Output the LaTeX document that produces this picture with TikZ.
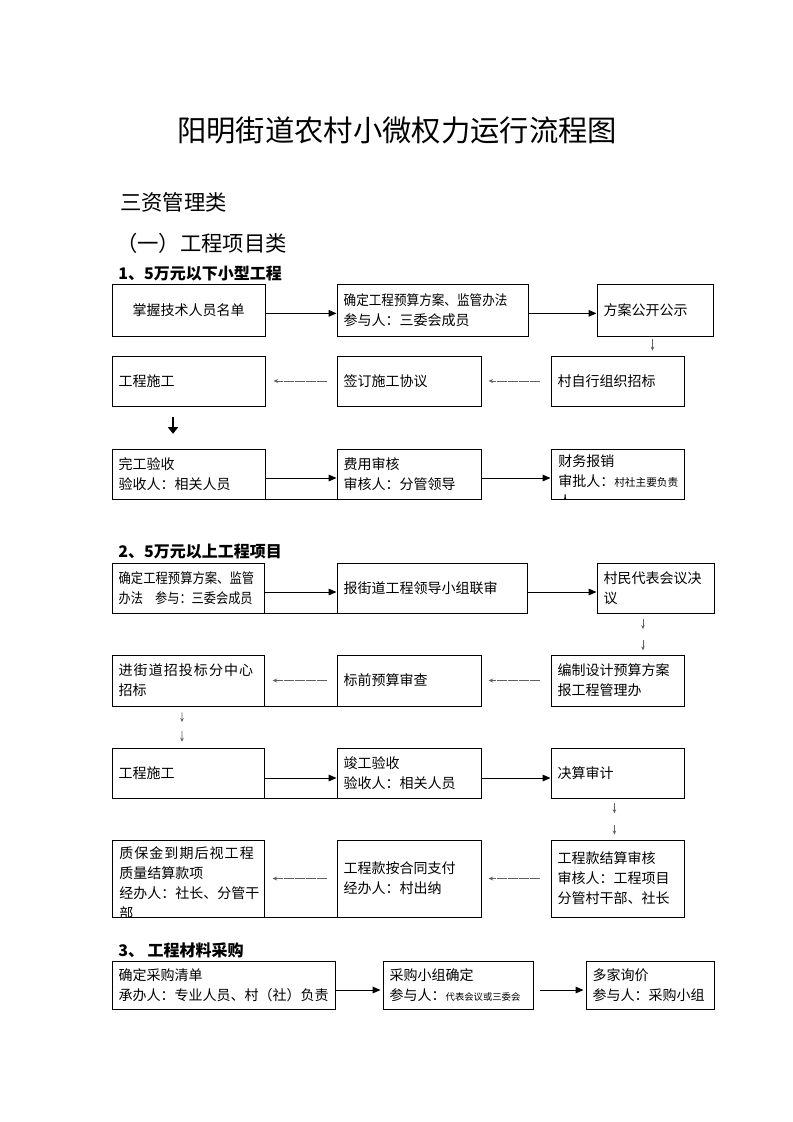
\documentclass[tikz,border=0pt]{standalone}
\usepackage{fontspec}
\setmainfont{Noto Sans CJK SC}
\usepackage{graphicx}
\usetikzlibrary{arrows.meta,calc}
\newcommand\flowbox[7][]{%
  \pgfmathsetlengthmacro\fbw{(#5-#3)*0.75pt}%
  \pgfmathsetlengthmacro\fbh{(#6-#4)*0.75pt}%
  \pgfmathsetlengthmacro\fbt{(#5-#3)*0.75pt-10pt}%
  \node[box, minimum width=\fbw, minimum height=\fbh, text width=\fbt, #1] (#2) at ({(#3+#5)/2},{(#4+#6)/2}) {#7};}
\newcommand\smalldown[5]{%
  \coordinate (#1s) at ([xshift=#3]#1.south);
  \coordinate (#1e) at (#1s |- #2.north);
  \draw[downarrow] ($(#1s)!#4!(#1e)$) -- ($(#1s)!#5!(#1e)$);}
\newcommand\gp{\hspace{0.8pt}}
\begin{document}
\begin{tikzpicture}[x=0.75pt,y=-0.75pt,
  box/.style={draw, line width=0.75pt, rectangle, inner xsep=5pt, inner ysep=0pt, align=left,
    font=\fontsize{10.5pt}{15pt}\selectfont},
  txt/.style={inner sep=0pt, align=left, font=\fontsize{10.5pt}{15pt}\selectfont},
  flowarrow/.style={line width=0.75pt, -{Triangle[length=6pt,width=5pt]}},
  backarrow/.style={draw=black!62, line width=0.65pt, dash pattern=on 7pt off 1.2pt, -{Stealth[length=3.5pt,width=3pt]}},
  downarrow/.style={draw=black!62, line width=0.55pt, -{Stealth[length=3pt,width=2.6pt]}},
  boldarrow/.style={line width=1.6pt, -{Triangle[length=5pt,width=7.5pt]}},
  heading/.style={anchor=west, inner sep=0pt, font=\bfseries\fontsize{12pt}{14pt}\selectfont}]
\fill[white] (0,0) rectangle (793,1122);
\useasboundingbox (0,0) rectangle (793,1122);

% titles
\node[inner sep=0pt, font=\fontsize{22pt}{26pt}\selectfont] (title) at (397,130) {阳明街道农村小微权力运行流程图};
\node[anchor=west, inner sep=0pt, font=\fontsize{16pt}{19pt}\selectfont] (cat) at (120,202) {三资管理类};
\node[anchor=west, inner sep=0pt, font=\fontsize{16pt}{19pt}\selectfont] (sub) at (116,243) {（一）工程项目类};

% ---------- section 1
\node[heading] (h1) at (118,274) {1、5万元以下小型工程};
\flowbox[align=center]{A}{112}{284}{265}{336}{掌握技术人员名单}
\flowbox{B}{337}{284}{528}{336}{\scalebox{0.9}[1]{确定工程预算方案、监管办法}\\参与人：三委会成员}
\flowbox{C}{597}{284}{713}{336}{方案公开公示}
\flowbox{D}{112}{356}{265}{406}{工程施工}
\flowbox{E}{337}{356}{481}{406}{签订施工协议}
\flowbox{F}{551}{356}{684}{406}{村自行组织招标}
\flowbox{G}{112}{449}{265}{499}{完工验收\\验收人：相关人员}
\flowbox{H}{337}{449}{481}{499}{费用审核\\审核人：分管领导}
\flowbox{I}{551}{449}{684}{499}{}
\begin{scope}
  \clip (I.south west) rectangle (I.north east);
  \node[txt, anchor=north west] (Itxt) at (558,454) {财务报销\\审批人：{\fontsize{8pt}{15pt}\selectfont 村社主要负责}\\人};
\end{scope}

\draw[flowarrow] ([yshift=-2.5pt]A.east) -- ([yshift=-2.5pt]B.west);
\draw[flowarrow] ([yshift=-2.5pt]B.east) -- ([yshift=-2.5pt]C.west);
\smalldown{C}{F}{-1.9pt}{0.15}{0.75}
\draw[backarrow, shorten <=8.25pt, shorten >=5.25pt] (F.west) -- (E.east);
\draw[backarrow, shorten <=7.5pt, shorten >=6pt] (E.west) -- (D.east);
\draw[boldarrow, shorten <=8pt, shorten >=11pt] ([xshift=-11.6pt]D.south) -- ([xshift=-11.6pt]D.south |- G.north);
\draw[flowarrow] ([yshift=-3pt]G.east) -- ([yshift=-3pt]H.west);
\draw[flowarrow] ([yshift=-3pt]H.east) -- ([yshift=-3pt]I.west);
\draw[line width=0.75pt] (G.south east) -- (H.south west);

% ---------- section 2
\node[heading] (h2) at (118,552) {2、5万元以上工程项目};
\flowbox{J}{112}{563}{264}{613}{\scalebox{0.88}[1]{确定工程预算方案、监管}\\\scalebox{0.87}[1]{办法\quad 参与：三委会成员}}
\flowbox{K}{337}{563}{527}{613}{报街道工程领导小组联审}
\flowbox{L}{597}{563}{714}{613}{村民代表会议决\\议}
\flowbox{M}{112}{655}{264}{706}{进\gp 街\gp 道\gp 招\gp 投\gp 标\gp 分\gp 中\gp 心\\招标}
\flowbox{N}{337}{655}{481}{706}{标前预算审查}
\flowbox{O}{551}{655}{684}{706}{编制设计预算方案\\报工程管理办}
\flowbox{P}{112}{748}{264}{798}{工程施工}
\flowbox{Q}{337}{748}{481}{798}{竣工验收\\验收人：相关人员}
\flowbox{R}{551}{748}{684}{798}{决算审计}
\flowbox{S}{112}{840}{264}{917}{}
\begin{scope}
  \clip (S.south west) rectangle (S.north east);
  \node[txt, anchor=north west] (Stxt) at (119,846) {质\gp 保\gp 金\gp 到\gp 期\gp 后\gp 视\gp 工\gp 程\\质量结算款项\\经办人：社长、分管干\\部};
\end{scope}
\flowbox{T}{337}{840}{481}{917}{工程款按合同支付\\经办人：村出纳}
\flowbox{U}{551}{840}{684}{917}{工程款结算审核\\审核人：工程项目\\分管村干部、社长}

\draw[flowarrow] ([yshift=-3pt]J.east) -- ([yshift=-3pt]K.west);
\draw[flowarrow] ([yshift=-3pt]K.east) -- ([yshift=-3pt]L.west);
\draw[line width=0.75pt] (J.south east) -- (K.south west);
\smalldown{L}{O}{-9.4pt}{0.14}{0.38}
\smalldown{L}{O}{-9.4pt}{0.64}{0.9}
\draw[backarrow, shorten <=8.25pt, shorten >=5.25pt] (O.west) -- (N.east);
\draw[backarrow, shorten <=7.5pt, shorten >=6pt] (N.west) -- (M.east);
\draw[line width=0.75pt] (M.south east) -- (N.south west);
\smalldown{M}{P}{-4.5pt}{0.14}{0.38}
\smalldown{M}{P}{-4.5pt}{0.6}{0.86}
\draw[flowarrow] ([yshift=-3.75pt]P.east) -- ([yshift=-3.75pt]Q.west);
\draw[flowarrow] ([yshift=-3.75pt]Q.east) -- ([yshift=-3.75pt]R.west);
\draw[line width=0.75pt] (P.south east) -- (Q.south west);
\smalldown{R}{U}{-2.3pt}{0.12}{0.36}
\smalldown{R}{U}{-2.3pt}{0.64}{0.88}
\draw[backarrow, shorten <=8.25pt, shorten >=5.25pt] (U.west) -- (T.east);
\draw[backarrow, shorten <=7.5pt, shorten >=6pt] (T.west) -- (S.east);
\draw[line width=0.75pt] (S.south east) -- (T.south west);

% ---------- section 3
\node[heading] (h3) at (118,950) {3、 工程材料采购};
\flowbox{V}{112}{961}{335}{1009}{确定采购清单\\承办人：专业人员、村（社）负责}
\flowbox{W}{383}{961}{533}{1009}{采购小组确定\\参与人：{\fontsize{7pt}{15pt}\selectfont 代表会议或三委会}}
\flowbox{X}{586}{961}{714}{1009}{多家询价\\参与人：采购小组}
\draw[flowarrow, shorten >=1.5pt] ([yshift=-3.75pt]V.east) -- ([yshift=-3.75pt]W.west);
\draw[flowarrow, shorten <=4.5pt, shorten >=1.5pt] ([yshift=-3.75pt]W.east) -- ([yshift=-3.75pt]X.west);
\end{tikzpicture}
\end{document}
